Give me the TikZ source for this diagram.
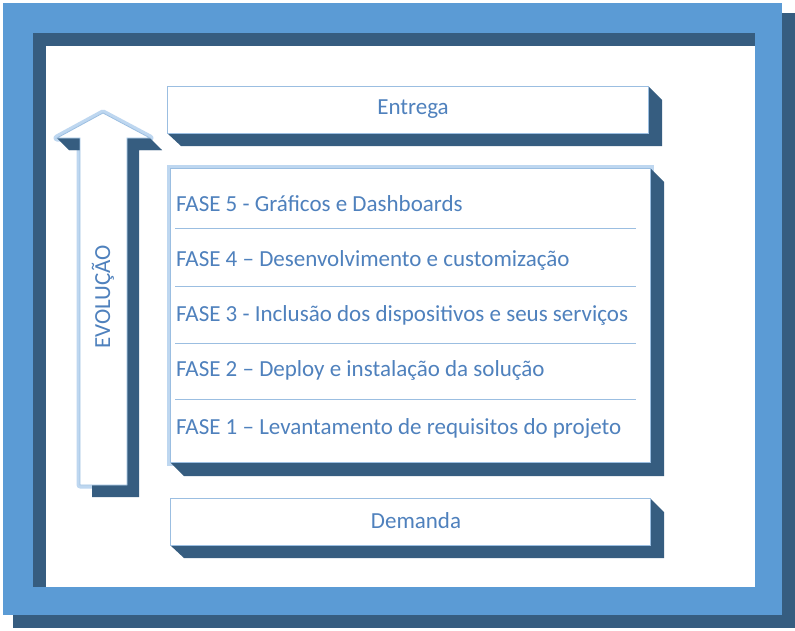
\documentclass[tikz,border=0pt]{standalone}
\usepackage{fontspec}
\setmainfont{Carlito}
\usepackage{xcolor}
\usetikzlibrary{positioning}
\definecolor{frameblue}{RGB}{91,155,213}
\definecolor{darkblue}{RGB}{54,93,128}
\definecolor{textblue}{RGB}{79,129,189}
\definecolor{lineblue}{RGB}{155,190,225}
\definecolor{glowblue}{RGB}{190,215,240}

\tikzset{
  face/.style = {fill=white, draw=lineblue, line width=0.8pt},
  depth/.style = {fill=darkblue, draw=none},
  label/.style = {text=textblue, font=\fontsize{23}{27}\selectfont, inner sep=0pt},
  divider/.style = {draw=lineblue, line width=0.8pt}
}

\begin{document}
\begin{tikzpicture}[x=1pt, y=-1pt]
\useasboundingbox (0,0) rectangle (795,630);

% outer frame
\fill[darkblue] (13,13) rectangle (795,628);
\fill[frameblue] (3,3) rectangle (782,615);
\fill[darkblue] (33,33) rectangle (755,587);
\fill[white] (46,46) rectangle (755,587);

% arrow
\draw[glowblue, line width=7pt, line join=round] (103,113) -- (150,138) -- (127,138) -- (127,485) -- (80,485) -- (80,138) -- (57,138) -- cycle;
\fill[depth] (115,125) -- (162,150) -- (139,150) -- (139,497) -- (92,497) -- (92,150) -- (69,150) -- cycle;
\fill[depth] (57,138) -- (69,150) -- (92,150) -- (80,138) -- cycle;
\fill[depth] (150,138) -- (162,150) -- (139,150) -- (127,138) -- cycle;
\filldraw[face] (103,113) -- (150,138) -- (127,138) -- (127,485) -- (80,485) -- (80,138) -- (57,138) -- cycle;
\node[label, rotate=90] (evolucao) at (103,297) {EVOLUÇÃO};

% boxes
\fill[depth] (167,86) -- (648,86) -- (662,100) -- (662,146) -- (181,146) -- (167,133) -- cycle;
\filldraw[face] (167,86) rectangle (648,133);
\node[label] (entrega) at (413,109) {Entrega};

\draw[glowblue, line width=7pt] (170,168) rectangle (650,462);
\fill[depth] (170,168) -- (650,168) -- (664,182) -- (664,476) -- (184,476) -- (170,462) -- cycle;
\filldraw[face] (170,168) rectangle (650,462);
\node[label, anchor=west] (fase5) at (176,204) {FASE 5 - Gráficos e Dashboards};
\node[label, anchor=west] (fase4) at (176,260) {FASE 4 – Desenvolvimento e customização};
\node[label, anchor=west] (fase3) at (176,315) {FASE 3 - Inclusão dos dispositivos e seus serviços};
\node[label, anchor=west] (fase2) at (176,370) {FASE 2 – Deploy e instalação da solução};
\node[label, anchor=west] (fase1) at (176,428) {FASE 1 – Levantamento de requisitos do projeto};
\draw[divider] (175,228) -- (636,228);
\draw[divider] (175,286) -- (636,286);
\draw[divider] (175,343) -- (636,343);
\draw[divider] (175,399) -- (636,399);

\fill[depth] (170,498) -- (650,498) -- (664,512) -- (664,558) -- (184,558) -- (170,545) -- cycle;
\filldraw[face] (170,498) rectangle (650,545);
\node[label] (demanda) at (416,521) {Demanda};

\end{tikzpicture}
\end{document}
